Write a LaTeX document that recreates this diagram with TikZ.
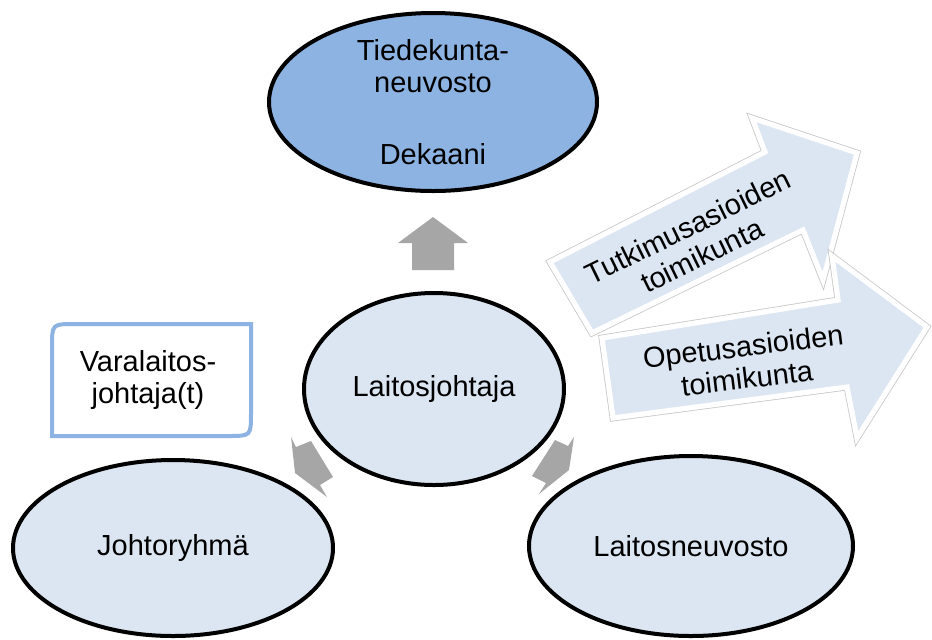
\documentclass[tikz,border=0pt]{standalone}
\usepackage{fontspec}
\setmainfont{Liberation Sans}
\usetikzlibrary{shapes.geometric,shadows}
\definecolor{tummasin}{HTML}{8DB3E2}
\definecolor{vaalsin}{HTML}{DCE6F2}
\definecolor{harmaa}{HTML}{A6A6A6}
\tikzset{
    teksti/.style={font=\fontsize{14.5pt}{16pt}\selectfont, align=center},
    kupla/.style={ellipse, draw=black, line width=2pt, fill=vaalsin, teksti, inner sep=0pt},
    isonuoli/.style={fill=vaalsin, draw=white, line width=2.6pt, line join=miter,
        preaction={draw=black!22, line width=3.4pt, line join=miter},
        drop shadow={shadow xshift=0.6pt, shadow yshift=-0.8pt, opacity=0.15}},
    pikkunuoli/.style={fill=harmaa, draw=none},
    kehys/.style={draw=tummasin, line width=2pt, fill=white}
}
\begin{document}
\begin{tikzpicture}[x=0.5pt,y=-0.5pt]
            \useasboundingbox (0,0) rectangle (932,639);
            \fill[pikkunuoli] (398,243)--(433,217)--(468,243)--(454,243)--(454,270)--(412,270)--(412,243)--cycle;
            \fill[pikkunuoli] (291,437)--(296,447)--(311,441)--(333,477)--(320,485)--(327,497)--(295,473)--cycle;
            \fill[pikkunuoli] (574,437)--(568,446)--(555,440)--(532,476)--(546,483)--(539,494)--(569,470)--cycle;
            \node[kupla, fill=tummasin, minimum width=164pt, minimum height=89pt] (tdk) at (433,102) {Tiedekunta-\\neuvosto\\[20pt]Dekaani};
            \node[kupla, minimum width=130pt, minimum height=96pt] (lj) at (434,389) {Laitosjohtaja};
            \node[kupla, minimum width=160pt, minimum height=88pt] (jr) at (173,548) {Johtoryhmä};
            \node[kupla, minimum width=162pt, minimum height=90pt] (ln) at (691,546) {Laitosneuvosto};
            \draw[kehys] (75,324)--(251,324)--(251,413) .. controls (251,436) .. (228,436)--(52,436)--(52,347) .. controls (52,324) .. (75,324)--cycle;
            \node[teksti] (vlj) at (148,380) {Varalaitos-\\johtaja(t)};
            \filldraw[isonuoli] (550,262)--(765,152)--(752,118)--(857,153)--(823,280)--(803,230)--(592,333)--cycle;
            \node[teksti, rotate=26] (tutk) at (695,241) {Tutkimusasioiden\\toimikunta};
            \filldraw[isonuoli] (602,338)--(838,300)--(832,256)--(927,327)--(857,438)--(847,387)--(613,418)--cycle;
            \node[teksti, rotate=7] (opet) at (745,362) {Opetusasioiden\\toimikunta};
        \end{tikzpicture}
\end{document}
